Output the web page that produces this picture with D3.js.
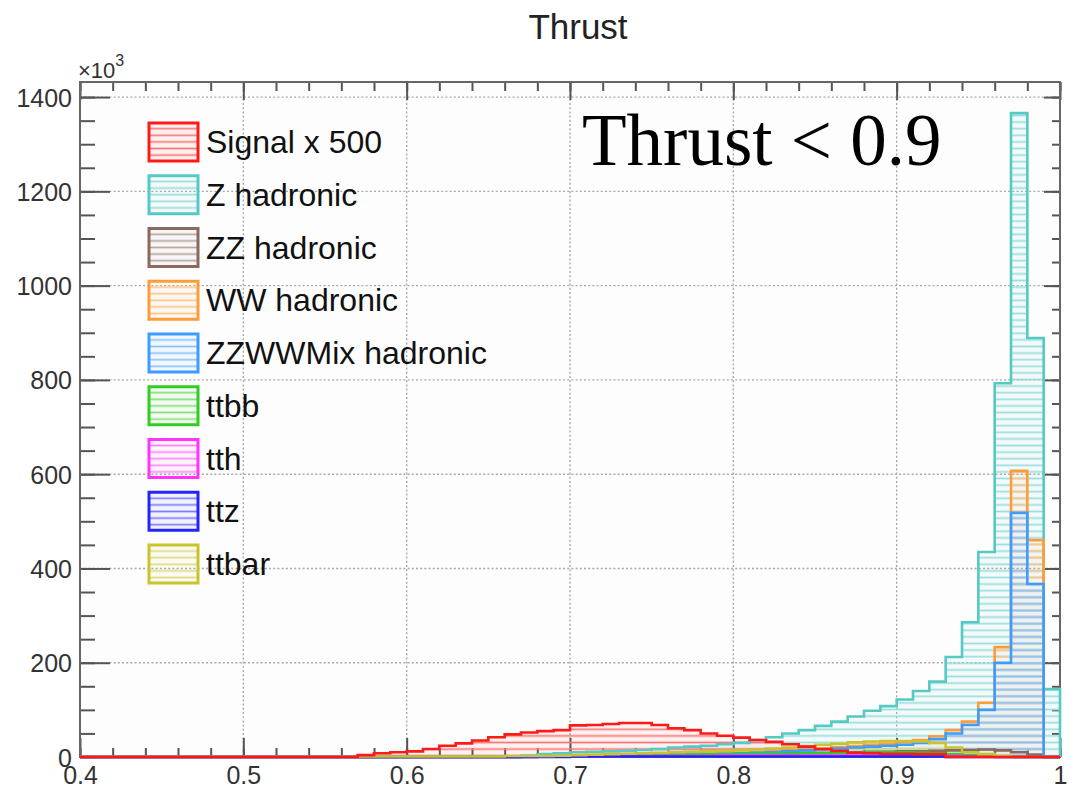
<!DOCTYPE html>
<html>
<head>
<meta charset="utf-8">
<script src="https://cdn.jsdelivr.net/npm/d3@7"></script>
<style>
  html, body { margin: 0; padding: 0; background: #ffffff; }
  svg { display: block; }
</style>
</head>
<body>
<svg id="chart" width="1070" height="794"></svg>
<script>
// Thrust distribution, 60 bins of width 0.01 from 0.40 to 1.00 (values in units of 10^3)
const binLow = 0.40;
const binWidth = 0.01;

const signalX500 = [
  0,0,0,0,0,0,0,0,0,0, 0,0,0,0,0,0,0,4,8,10,
  12,17,24,29,35,42,48,52,55,57, 67,68,70,72,72,68,61,57,50,45,
  41,36,32,27,22,17,13,9,8,7, 7,6,6,0,0,0,0,0,0,0
];
const zHadronic = [
  0,0,0,0,0,0,0,0,0,0, 0,0,0,0,0,0,0,0,0,0,
  0,0,0,0,0,0,0,3,6,8, 10,11,12,13,15,17,20,22,24,27,
  30,36,42,50,57,66,75,86,98,108, 122,140,160,212,286,435,793,1366,889,144
];
const zzHadronic = [
  0,0,0,0,0,0,0,0,0,0, 0,0,0,0,0,0,0,0,0,0,
  0,0,0,0,0,0,0,0,1,1, 2,2,3,3,4,4,5,5,6,6,
  7,7,8,8,9,9,10,10,11,11, 12,12,13,14,15,16,14,10,5,0
];
const wwHadronic = [
  0,0,0,0,0,0,0,0,0,0, 0,0,0,0,0,0,0,0,0,0,
  0,0,0,0,0,0,0,1,2,2, 3,3,4,4,5,5,6,6,7,8,
  9,10,12,14,16,18,21,23,26,28, 32,36,44,57,75,115,233,607,460,0
];
const zzwwMix = [
  0,0,0,0,0,0,0,0,0,0, 0,0,0,0,0,0,0,0,0,0,
  0,0,0,0,0,0,0,1,1,2, 2,3,3,4,4,5,5,5,6,7,
  8,9,10,12,14,16,18,20,22,24, 26,30,38,50,68,100,200,518,367,0
];
const ttbb = [
  0,0,0,0,0,0,0,0,0,0, 0,0,0,0,0,0,0,0,0,0,
  0,0,0,0,0,0,0,1,1,1, 2,2,2,3,3,3,4,4,5,5,
  6,6,7,7,8,8,9,9,10,10, 10,9,8,6,4,2,1,0,0,0
];
const tth = [
  0,0,0,0,0,0,0,0,0,0, 0,0,0,0,0,0,0,0,0,0,
  0,0,0,0,0,0,0,0,1,1, 1,1,1,2,2,2,2,2,2,3,
  3,3,3,3,3,3,3,3,3,3, 3,3,2,2,1,1,0,0,0,0
];
const ttz = [
  0,0,0,0,0,0,0,0,0,0, 0,0,0,0,0,0,0,0,0,0,
  0,0,0,0,0,0,0,0,0,0, 1,1,1,1,1,1,1,1,1,1,
  1,1,1,1,1,1,1,1,1,1, 1,1,1,0,0,0,0,0,0,0
];
const ttbar = [
  0,0,0,0,0,0,0,0,0,0, 0,0,0,0,0,0,0,1,1,1,
  1,1,1,1,1,1,2,2,2,3, 4,5,6,7,8,9,10,11,12,13,
  14,16,18,20,23,26,28,31,33,34, 34,33,30,20,10,6,2,0,0,0
];

const seriesNames = ["Signal x 500","Z hadronic","ZZ hadronic","WW hadronic","ZZWWMix hadronic","ttbb","tth","ttz","ttbar"];
const seriesColors = ["#ff1a1a","#55c9c4","#8a6a5c","#ff9c3a","#3c9cff","#33cc22","#ff33ff","#2424ff","#c8c42e"];
const seriesValues = [signalX500, zHadronic, zzHadronic, wwHadronic, zzwwMix, ttbb, tth, ttz, ttbar];

const xMajorTicks = [0.4,0.5,0.6,0.7,0.8,0.9,1.0];
const xTickLabels = ["0.4","0.5","0.6","0.7","0.8","0.9","1"];
const yMajorTicks = [0,200,400,600,800,1000,1200,1400];
const yTickLabels = ["0","200","400","600","800","1000","1200","1400"];

const plotTitle = "Thrust";
const cutLabel = "Thrust < 0.9";

// ---------------------------------------------------------------
(function draw() {
const svg = d3.select("#chart");
const pL = 80, pR = 1060, pT = 82, pB = 757;

const x = d3.scaleLinear().domain([0.4, 1.0]).range([pL, pR]);
const y = d3.scaleLinear().domain([0, 1432]).range([pB, pT]);

const defs = svg.append("defs");
defs.append("clipPath").attr("id", "plotClip")
  .append("rect").attr("x", pL - 2).attr("y", pT).attr("width", pR - pL + 4).attr("height", pB - pT + 2);

// horizontal hatch for each histogram: lighter tint of the line colour
seriesColors.forEach((c, i) => {
  const p = defs.append("pattern").attr("id", "hatch" + i)
    .attr("patternUnits", "userSpaceOnUse").attr("width", 12).attr("height", 6.6);
  p.append("rect").attr("width", 12).attr("height", 6.6).attr("fill", c).attr("fill-opacity", 0.05);
  p.append("line").attr("x1", 0).attr("x2", 12).attr("y1", 3.3).attr("y2", 3.3)
    .attr("stroke", d3.interpolateRgb(c, "#ffffff")(0.4)).attr("stroke-width", 1.7);
});

// plot background
svg.append("rect").attr("x", pL).attr("y", pT).attr("width", pR - pL).attr("height", pB - pT)
  .attr("fill", "#fdfdfd");

// dotted grid
const grid = svg.append("g").attr("stroke", "#a8a8a8").attr("stroke-width", 1.4).attr("stroke-dasharray", "2,2.2");
xMajorTicks.filter(v => v > 0.4 && v < 1.0).forEach(v => {
  grid.append("line").attr("x1", x(v)).attr("x2", x(v)).attr("y1", pT).attr("y2", pB);
});
yMajorTicks.filter(v => v > 0).forEach(v => {
  grid.append("line").attr("x1", pL).attr("x2", pR).attr("y1", y(v)).attr("y2", y(v));
});

// axes (ticks pointing inward)
const axisColor = "#555";
const fontSans = "'Liberation Sans', Arial, Helvetica, sans-serif";
const xMinor = d3.range(0.40, 1.0001, 0.02);
const yMinor = d3.range(0, 1432, 50);

const axB = svg.append("g").attr("transform", `translate(0,${pB})`)
  .call(d3.axisBottom(x).tickValues(xMajorTicks).tickSize(-19).tickPadding(9)
    .tickFormat((d, i) => xTickLabels[i]));
const axBm = svg.append("g").attr("transform", `translate(0,${pB})`)
  .call(d3.axisBottom(x).tickValues(xMinor).tickSize(-9).tickFormat(""));
const axT = svg.append("g").attr("transform", `translate(0,${pT})`)
  .call(d3.axisTop(x).tickValues(xMajorTicks).tickSize(-18).tickFormat(""));
const axTm = svg.append("g").attr("transform", `translate(0,${pT})`)
  .call(d3.axisTop(x).tickValues(xMinor).tickSize(-9).tickFormat(""));

const axL = svg.append("g").attr("transform", `translate(${pL},0)`)
  .call(d3.axisLeft(y).tickValues(yMajorTicks).tickSize(-30).tickPadding(8)
    .tickFormat((d, i) => yTickLabels[i]));
const axLm = svg.append("g").attr("transform", `translate(${pL},0)`)
  .call(d3.axisLeft(y).tickValues(yMinor).tickSize(-15).tickFormat(""));
const axR = svg.append("g").attr("transform", `translate(${pR},0)`)
  .call(d3.axisRight(y).tickValues(yMajorTicks).tickSize(-16).tickFormat(""));
const axRm = svg.append("g").attr("transform", `translate(${pR},0)`)
  .call(d3.axisRight(y).tickValues(yMinor).tickSize(-8).tickFormat(""));

[axB, axBm, axT, axTm, axL, axLm, axR, axRm].forEach(g => {
  g.select(".domain").remove();
  g.selectAll(".tick line").attr("stroke", axisColor).attr("stroke-width", 2);
  g.selectAll(".tick text").attr("fill", "#333").style("font-family", fontSans).style("font-size", "25px");
});
axL.selectAll(".tick text").attr("dy", "0.36em");

// frame
svg.append("rect").attr("x", pL).attr("y", pT).attr("width", pR - pL).attr("height", pB - pT)
  .attr("fill", "none").attr("stroke", "#666").attr("stroke-width", 2);

// step outline of one histogram
function stepPoints(vals) {
  const pts = [[x(binLow), y(0)]];
  vals.forEach((v, i) => {
    const lo = binLow + i * binWidth, hi = lo + binWidth;
    pts.push([x(lo), y(v)], [x(hi), y(v)]);
  });
  pts.push([x(binLow + vals.length * binWidth), y(0)]);
  return pts;
}
const line = d3.line();

const hists = svg.append("g").attr("clip-path", "url(#plotClip)");
// draw order: backgrounds first, signal last
const drawOrder = [1, 2, 3, 4, 5, 6, 7, 8, 0];
drawOrder.forEach(i => {
  const pts = stepPoints(seriesValues[i]);
  hists.append("path").attr("d", line(pts) + "Z")
    .attr("fill", "url(#hatch" + i + ")").attr("stroke", "none");
});
drawOrder.forEach(i => {
  const pts = stepPoints(seriesValues[i]);
  hists.append("path").attr("d", line(pts))
    .attr("fill", "none").attr("stroke", seriesColors[i]).attr("stroke-width", 2.6)
    .attr("stroke-linejoin", "miter");
});

// exponent label
const expo = svg.append("text").attr("x", 78).attr("y", 78).attr("fill", "#333")
  .style("font-family", fontSans).style("font-size", "22px");
expo.append("tspan").text("\u00d710");
expo.append("tspan").attr("dy", -12).style("font-size", "16px").text("3");

// title
svg.append("text").attr("x", 578).attr("y", 39).attr("text-anchor", "middle").attr("fill", "#222")
  .style("font-family", fontSans).style("font-size", "35px").text(plotTitle);

// cut annotation
svg.append("text").attr("x", 582).attr("y", 165).attr("fill", "#000")
  .style("font-family", "'Liberation Serif', 'Times New Roman', serif").style("font-size", "73px")
  .text(cutLabel);

// legend
const legend = svg.append("g");
seriesNames.forEach((name, i) => {
  const cy = 142 + i * 52.75;
  legend.append("rect").attr("x", 149).attr("y", cy - 19).attr("width", 49).attr("height", 38)
    .attr("fill", "url(#hatch" + i + ")").attr("stroke", seriesColors[i]).attr("stroke-width", 3);
  legend.append("text").attr("x", 206).attr("y", cy + 11).attr("fill", "#111")
    .style("font-family", fontSans).style("font-size", "32px").text(name);
});
})();
</script>
</body>
</html>
